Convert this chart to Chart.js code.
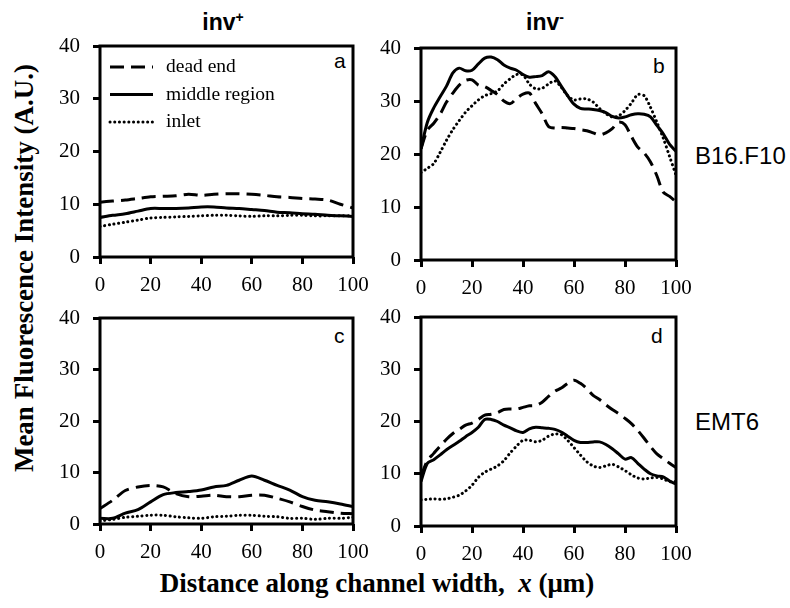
<!DOCTYPE html>
<html lang="en">
<head>
<meta charset="UTF-8">
<title>Mean Fluorescence Intensity</title>
<script src="https://cdn.jsdelivr.net/npm/chart.js"></script>
<style>
  body { margin: 0; background: #fff; width: 790px; height: 608px; position: relative; overflow: hidden; }
  canvas { position: absolute; }
  .txt { position: absolute; white-space: nowrap; color: #000; line-height: 1; }
  .sans { font-family: 'Liberation Sans', Arial, sans-serif; }
  .serif { font-family: 'Liberation Serif', 'Times New Roman', serif; }
  .letter { font-size: 21px; }
</style>
</head>
<body>

<div class="txt sans" style="left:223px; top:11px; font-size:23px; font-weight:bold; transform:translateX(-50%);">inv<span style="position:relative; top:-8px; font-size:14px;">+</span></div>
<div class="txt sans" style="left:545px; top:11px; font-size:23px; font-weight:bold; transform:translateX(-50%);">inv<span style="position:relative; top:-8px; font-size:14px;">-</span></div>

<div class="txt serif" style="left:24px; top:268px; font-size:27px; font-weight:bold; transform:translate(-50%,-50%) rotate(-90deg);">Mean Fluorescence Intensity (A.U.)</div>
<div class="txt serif" style="left:377px; top:583px; font-size:27px; font-weight:bold; transform:translate(-50%,-50%);">Distance along channel width, &nbsp;<i>x</i> (μm)</div>

<div class="txt sans" style="left:695px; top:144px; font-size:24px;">B16.F10</div>
<div class="txt sans" style="left:695px; top:410px; font-size:24px;">EMT6</div>

<div class="txt sans letter" style="left:334px; top:50px;">a</div>
<div class="txt sans letter" style="left:653px; top:55px;">b</div>
<div class="txt sans letter" style="left:334px; top:325px;">c</div>
<div class="txt sans letter" style="left:651px; top:325px;">d</div>

<script>
// x positions (um)
const xCoarse = [0,5,10,15,20,25,30,35,40,45,50,55,60,65,70,75,80,85,90,95,100];
const xFine = [0,2.5,5,7.5,10,12.5,15,17.5,20,22.5,25,27.5,30,32.5,35,37.5,40,42.5,45,47.5,50,
               52.5,55,57.5,60,62.5,65,67.5,70,72.5,75,77.5,80,82.5,85,87.5,90,92.5,95,97.5,100];

const seriesNames = ['dead end', 'middle region', 'inlet'];

// a: inv+, B16.F10
const aDead   = [10.4,10.6,10.8,11.1,11.4,11.5,11.6,11.9,11.7,11.9,12.0,12.0,11.9,11.7,11.4,11.3,11.1,11.0,10.8,10.0,9.3];
const aMiddle = [7.5,7.9,8.2,8.7,9.2,9.2,9.2,9.3,9.5,9.5,9.3,9.2,9.0,8.8,8.5,8.4,8.2,8.1,7.9,7.8,7.7];
const aInlet  = [5.8,6.2,6.6,7.0,7.4,7.5,7.6,7.7,7.8,7.9,7.9,7.8,7.7,7.8,7.8,7.9,7.9,7.8,7.8,7.8,7.8];

// b: inv-, B16.F10
const bDead   = [21,24.5,25.8,27.5,29.8,31.5,33.0,33.9,34.0,33.0,32.7,32.0,31.2,30.0,29.5,30.5,31.3,31.5,29.5,27.6,25.2,
                 24.9,25.0,24.9,24.8,24.6,24.4,24.0,23.6,24.0,24.8,26.0,25.5,23.3,21.3,20.2,18.5,15.9,12.8,12.0,11.0];
const bMiddle = [21,26,28.7,30.8,32.8,35.3,36.2,35.7,35.8,37.0,38.1,38.3,37.8,36.8,36.2,35.8,35.0,34.5,34.6,34.8,35.5,
                 34.6,32.8,31.0,29.4,28.6,28.5,28.4,28.2,27.8,27.1,26.8,27.0,27.4,27.6,27.5,27.0,25.4,23.8,21.8,20.5];
const bInlet  = [16.5,17.3,18.2,20.3,22.6,24.6,26.3,27.9,29.1,30.2,31.0,31.4,31.9,33.2,34.2,35.0,34.9,33.2,32.3,32.4,33.2,
                 33.8,32.6,31.0,30.2,30.4,30.4,29.8,28.6,27.6,27.0,27.2,28.2,29.6,31.2,31.0,28.8,26.0,23.0,19.5,16.0];

// c: inv+, EMT6
const cDead   = [3.0,4.6,6.5,7.2,7.5,7.2,5.9,5.3,5.4,5.6,5.3,5.3,5.6,5.6,5.0,4.3,3.4,2.7,2.4,2.1,2.0];
const cMiddle = [1.1,1.1,2.1,2.8,4.3,5.7,6.1,6.3,6.6,7.2,7.5,8.5,9.3,8.5,7.5,6.6,5.3,4.6,4.3,3.9,3.4];
const cInlet  = [0.6,0.9,1.3,1.5,1.7,1.7,1.4,1.2,1.1,1.4,1.5,1.7,1.7,1.5,1.4,1.1,1.1,0.9,1.1,1.1,1.3];

// d: inv-, EMT6
const dDead   = [9.5,12.5,13.9,15.3,16.6,17.7,18.5,19.3,19.7,20.4,21.2,21.4,21.7,22.3,22.4,22.4,22.7,23.0,23.1,23.7,24.8,
                 25.8,26.4,27.3,27.9,27.3,26.3,25.0,24.2,23.2,22.3,21.5,20.6,19.6,18.3,16.8,15.2,13.8,12.9,12.0,11.2];
const dMiddle = [8.5,12.0,12.7,13.6,14.6,15.4,16.2,17.1,17.9,18.9,20.4,20.4,20.0,19.3,18.8,18.2,17.9,18.6,18.9,18.8,18.7,
                 18.5,18.0,17.2,16.4,16.0,16.0,16.1,16.1,15.6,14.8,13.8,12.8,13.1,12.0,10.9,10.0,9.6,9.4,8.6,8.0];
const dInlet  = [5.0,5.1,5.2,5.1,5.2,5.5,5.9,6.7,7.8,9.3,10.3,10.9,11.5,12.5,14.0,15.3,16.4,16.4,16.1,16.4,17.2,
                 17.6,17.5,16.4,15.0,13.6,12.3,11.5,11.2,11.5,11.8,11.3,10.6,9.8,9.2,9.0,9.2,9.3,9.0,8.5,8.5];

const yTicks = [0, 10, 20, 30, 40];
const xTicks = [0, 20, 40, 60, 80, 100];

// line styles for dead end / middle region / inlet
const lineStyles = [
  { borderDash: [14, 7], borderWidth: 3, borderCapStyle: 'butt' },
  { borderDash: [], borderWidth: 3, borderCapStyle: 'butt' },
  { borderDash: [0.1, 4.6], borderWidth: 3, borderCapStyle: 'round' }
];

// y tick padding (13) is added to the scale's own top padding, so the layout top padding must exceed ~26
const Y_W = 60, X_H = 42, PAD_T = 30, PAD_R = 32;

function pairs(xs, ys) {
  return xs.map(function (x, i) { return { x: x, y: ys[i] }; });
}

const framePlugin = {
  id: 'frame',
  afterDatasetsDraw(chart) {
    const a = chart.chartArea, ctx = chart.ctx;
    ctx.save();
    ctx.setLineDash([]);
    ctx.strokeStyle = '#000';
    ctx.lineWidth = 3;
    ctx.strokeRect(a.left, a.top, a.right - a.left, a.bottom - a.top);
    ctx.restore();
  }
};

const innerLegend = {
  id: 'innerLegend',
  afterDraw(chart, args, opts) {
    if (!opts.show) return;
    const a = chart.chartArea, ctx = chart.ctx;
    ctx.save();
    chart.data.datasets.forEach(function (ds, i) {
      const y = a.top + 21 + i * 27.5;
      ctx.strokeStyle = '#000';
      ctx.lineWidth = ds.borderWidth;
      ctx.lineCap = ds.borderCapStyle;
      ctx.setLineDash(ds.borderDash);
      ctx.beginPath();
      ctx.moveTo(a.left + 10, y);
      ctx.lineTo(a.left + 53, y);
      ctx.stroke();
      ctx.setLineDash([]);
      ctx.fillStyle = '#000';
      ctx.font = "19.5px 'Liberation Serif'";
      ctx.textBaseline = 'middle';
      ctx.fillText(ds.label, a.left + 66, y);
    });
    ctx.restore();
  }
};

function plotarPainel(box, xs, series, legenda) {
  const cv = document.createElement('canvas');
  const w = box.R - box.L + Y_W + PAD_R;
  const h = box.B - box.T + PAD_T + X_H;
  cv.width = w; cv.height = h;
  cv.style.left = (box.L - Y_W) + 'px';
  cv.style.top = (box.T - PAD_T) + 'px';
  cv.style.width = w + 'px';
  cv.style.height = h + 'px';
  document.body.appendChild(cv);

  const tickFont = { family: 'Liberation Serif', size: 21 };
  const gridOpts = { drawOnChartArea: false, drawTicks: true, tickLength: 7, lineWidth: 3, color: '#000' };

  const datasets = series.map(function (ys, i) {
    return Object.assign({
      label: seriesNames[i],
      data: pairs(xs, ys),
      borderColor: '#000',
      backgroundColor: '#000',
      pointRadius: 0,
      tension: 0.3,
      fill: false
    }, lineStyles[i]);
  });

  new Chart(cv, {
    type: 'line',
    data: { datasets: datasets },
    options: {
      responsive: false,
      animation: false,
      devicePixelRatio: 1,
      layout: { padding: { top: PAD_T, right: PAD_R, left: 0, bottom: 0 } },
      plugins: {
        legend: { display: false },
        tooltip: { enabled: false },
        innerLegend: { show: legenda }
      },
      scales: {
        x: {
          type: 'linear', min: 0, max: 100,
          afterBuildTicks: function (s) { s.ticks = xTicks.map(function (v) { return { value: v }; }); },
          ticks: { color: '#000', font: tickFont, padding: 9, maxRotation: 0, autoSkip: false },
          grid: gridOpts,
          border: { display: false },
          afterFit: function (s) { s.height = X_H; }
        },
        y: {
          min: 0, max: 40,
          afterBuildTicks: function (s) { s.ticks = yTicks.map(function (v) { return { value: v }; }); },
          ticks: { color: '#000', font: tickFont, padding: 13 },
          grid: gridOpts,
          border: { display: false },
          afterFit: function (s) { s.width = Y_W; }
        }
      }
    },
    plugins: [framePlugin, innerLegend]
  });
}

plotarPainel({ L: 100, R: 353, T: 46, B: 257 }, xCoarse, [aDead, aMiddle, aInlet], true);
plotarPainel({ L: 421, R: 676, T: 48, B: 260 }, xFine, [bDead, bMiddle, bInlet], false);
plotarPainel({ L: 100, R: 353, T: 318, B: 524 }, xCoarse, [cDead, cMiddle, cInlet], false);
plotarPainel({ L: 421, R: 676, T: 317, B: 526 }, xFine, [dDead, dMiddle, dInlet], false);
</script>
</body>
</html>
